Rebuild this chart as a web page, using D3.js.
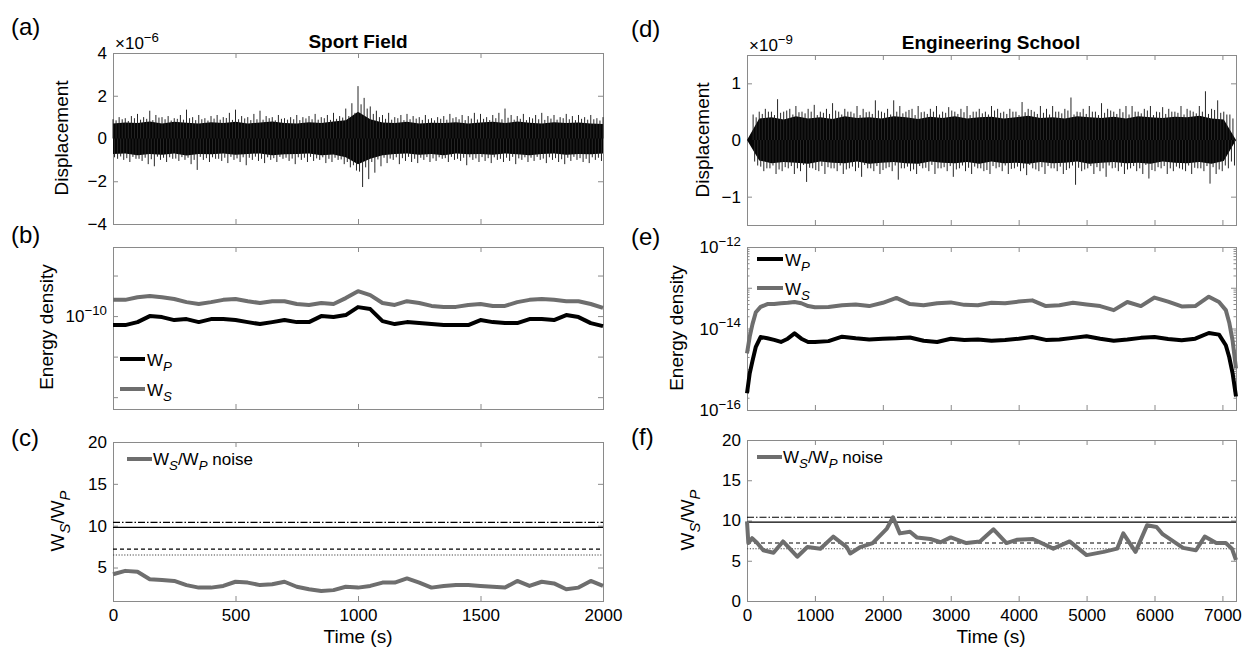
<!DOCTYPE html>
<html lang="en">
<head>
<meta charset="UTF-8">
<title>noise energy ratio</title>
<script src="https://d3js.org/d3.v7.min.js"></script>
<style>
  body { margin: 0; background: #fff; }
  svg { display: block; font-family: "Liberation Sans", Arial, Helvetica, sans-serif; }
</style>
</head>
<body>
<div class="canvas"></div>
<script>
// ---------- data ----------
// (a) Sport Field displacement (x1e-6): tall up / down peaks every 25 s
const sportStep = 25;
const sportHi = [0.9, 1.0, 0.95, 1.05, 1.15, 1.0, 1.3, 1.1, 1.0, 1.05,
  0.95, 1.1, 1.35, 1.0, 1.1, 0.95, 1.05, 1.1, 1.0, 1.2,
  1.35, 1.05, 1.0, 1.15, 1.3, 1.05, 1.0, 1.1, 0.95, 1.0,
  1.1, 1.0, 1.05, 1.15, 1.0, 1.1, 1.2, 1.05, 1.4, 1.65,
  2.45, 1.9, 1.5, 1.3, 1.1, 1.2, 1.0, 1.1, 1.15, 1.05,
  1.0, 1.1, 0.95, 1.0, 1.05, 1.15, 1.0, 1.1, 1.05, 1.2,
  1.15, 1.0, 1.1, 1.2, 1.4, 1.1, 1.05, 1.15, 1.0, 1.1,
  1.2, 1.05, 1.1, 1.0, 1.15, 1.05, 1.1, 1.0, 1.1, 0.95, 1.0];
const sportLo = [-0.95, -1.0, -1.1, -0.95, -1.05, -1.2, -1.3, -1.0, -1.1, -0.95,
  -1.05, -1.0, -1.2, -1.47, -1.0, -1.1, -0.95, -1.05, -1.15, -1.0,
  -1.1, -1.25, -1.0, -1.05, -1.15, -1.0, -1.1, -0.95, -1.05, -1.2,
  -1.0, -1.1, -1.05, -1.0, -1.15, -1.1, -1.0, -1.2, -1.35, -1.5,
  -2.27, -1.9, -1.6, -1.3, -1.15, -1.0, -1.2, -1.05, -1.1, -1.15,
  -1.0, -1.1, -1.05, -0.95, -1.1, -1.0, -1.05, -1.25, -1.0, -1.1,
  -1.05, -1.15, -1.0, -1.1, -1.05, -1.2, -1.0, -1.1, -1.05, -1.0,
  -1.15, -1.0, -1.1, -1.2, -1.05, -1.0, -1.1, -1.15, -1.0, -1.05, -0.9];
// short peaks just outside the band, same 25 s grid
const sportFringeHi = [0.85, 0.9, 0.82, 0.95, 0.88, 0.92, 0.86, 0.98, 0.9, 0.84,
  0.92, 0.88, 0.95, 0.86, 0.9, 0.84, 0.93, 0.88, 0.96, 0.87,
  0.9, 0.94, 0.86, 0.9, 0.88, 0.95, 0.85, 0.92, 0.88, 0.9,
  0.86, 0.94, 0.9, 0.88, 0.95, 0.87, 0.92, 0.98, 1.05, 1.2,
  1.6, 1.4, 1.15, 1.0, 0.92, 0.88, 0.95, 0.86, 0.9, 0.93,
  0.87, 0.9, 0.85, 0.92, 0.88, 0.95, 0.9, 0.86, 0.93, 0.89,
  0.92, 0.86, 0.95, 0.9, 0.97, 0.88, 0.92, 0.86, 0.94, 0.9,
  0.87, 0.93, 0.88, 0.95, 0.9, 0.86, 0.92, 0.88, 0.9, 0.84, 0.8];
const sportFringeLo = [-0.88, -0.84, -0.92, -0.86, -0.95, -0.9, -0.97, -0.85, -0.9, -0.88,
  -0.94, -0.87, -0.9, -1.0, -0.86, -0.92, -0.88, -0.95, -0.9, -0.86,
  -0.93, -0.88, -0.9, -0.85, -0.95, -0.88, -0.92, -0.86, -0.9, -0.94,
  -0.88, -0.9, -0.86, -0.93, -0.88, -0.95, -0.9, -0.98, -1.1, -1.25,
  -1.55, -1.35, -1.1, -0.98, -0.9, -0.94, -0.88, -0.92, -0.86, -0.95,
  -0.9, -0.87, -0.93, -0.88, -0.92, -0.86, -0.95, -0.9, -0.88, -0.93,
  -0.87, -0.92, -0.88, -0.95, -0.9, -0.86, -0.93, -0.88, -0.9, -0.86,
  -0.94, -0.88, -0.92, -0.97, -0.9, -0.86, -0.92, -0.95, -0.88, -0.9, -0.8];
// edges of the solid black band, every 50 s
const sportBandStep = 50;
const sportBandUp = [0.7, 0.75, 0.72, 0.8, 0.7, 0.78, 0.74, 0.7, 0.76, 0.72,
  0.78, 0.7, 0.75, 0.8, 0.72, 0.7, 0.76, 0.72, 0.8, 0.85,
  1.25, 0.9, 0.75, 0.72, 0.78, 0.7, 0.74, 0.72, 0.76, 0.7,
  0.75, 0.78, 0.72, 0.8, 0.74, 0.7, 0.76, 0.72, 0.75, 0.7, 0.68];
const sportBandDn = [-0.72, -0.7, -0.78, -0.72, -0.76, -0.7, -0.8, -0.72, -0.74, -0.7,
  -0.76, -0.72, -0.7, -0.78, -0.74, -0.72, -0.7, -0.78, -0.75, -0.88,
  -1.2, -0.95, -0.78, -0.72, -0.7, -0.76, -0.72, -0.78, -0.7, -0.74,
  -0.72, -0.76, -0.7, -0.74, -0.78, -0.72, -0.7, -0.76, -0.72, -0.74, -0.7];

// (b) Sport Field energy density, every 50 s
const sportEnergyStep = 50;
const sportWp = [8.57e-11, 8.57e-11, 9.02e-11, 1.0e-10, 9.83e-11, 9.34e-11, 9.5e-11, 9.02e-11, 9.5e-11, 9.5e-11,
  9.34e-11, 9.02e-11, 8.72e-11, 9.02e-11, 9.34e-11, 9.02e-11, 9.02e-11, 1.0e-10, 9.83e-11, 1.017e-10,
  1.166e-10, 1.127e-10, 9.18e-11, 8.72e-11, 9.02e-11, 8.87e-11, 8.72e-11, 8.57e-11, 8.57e-11, 8.57e-11,
  9.34e-11, 9.02e-11, 8.87e-11, 8.87e-11, 9.5e-11, 9.5e-11, 9.34e-11, 1.017e-10, 9.83e-11, 8.87e-11, 8.43e-11];
const sportWs = [1.32e-10, 1.32e-10, 1.38e-10, 1.41e-10, 1.38e-10, 1.34e-10, 1.27e-10, 1.23e-10, 1.27e-10, 1.32e-10,
  1.34e-10, 1.29e-10, 1.25e-10, 1.29e-10, 1.29e-10, 1.23e-10, 1.21e-10, 1.25e-10, 1.23e-10, 1.36e-10,
  1.53e-10, 1.43e-10, 1.25e-10, 1.21e-10, 1.29e-10, 1.25e-10, 1.19e-10, 1.17e-10, 1.17e-10, 1.21e-10,
  1.23e-10, 1.19e-10, 1.19e-10, 1.27e-10, 1.32e-10, 1.34e-10, 1.32e-10, 1.29e-10, 1.29e-10, 1.23e-10, 1.15e-10];

// (c) Sport Field Ws/Wp, every 50 s
const sportRatio = [4.2, 4.6, 4.5, 3.6, 3.5, 3.4, 2.9, 2.6, 2.6, 2.8,
  3.3, 3.2, 2.9, 3.0, 3.3, 2.7, 2.4, 2.2, 2.3, 2.7,
  2.6, 2.8, 3.2, 3.2, 3.7, 3.2, 2.6, 2.8, 2.9, 2.9,
  2.8, 2.7, 2.6, 3.4, 2.8, 3.3, 3.1, 2.4, 2.6, 3.4, 2.8];

// horizontal reference levels in (c) and (f): dash-dot, solid, dashed, dotted
const refLevels = [10.4, 9.8, 7.2, 6.5];

// (d) Engineering School displacement (x1e-9): tall peaks every 90 s
const schoolStep = 90;
const schoolHi = [0.0, 0.45, 0.5, 0.55, 0.5, 0.72, 0.5, 0.55, 0.6, 0.5,
  0.55, 0.62, 0.5, 0.55, 0.65, 0.5, 0.55, 0.5, 0.6, 0.55,
  0.5, 0.7, 0.5, 0.55, 0.7, 0.6, 0.5, 0.55, 0.6, 0.5,
  0.55, 0.6, 0.5, 0.58, 0.5, 0.55, 0.6, 0.5, 0.55, 0.5,
  0.6, 0.55, 0.5, 0.55, 0.5, 0.67, 0.55, 0.5, 0.6, 0.55,
  0.6, 0.5, 0.55, 0.75, 0.5, 0.55, 0.6, 0.5, 0.65, 0.55,
  0.5, 0.55, 0.6, 0.6, 0.5, 0.55, 0.6, 0.5, 0.58, 0.55,
  0.5, 0.6, 0.55, 0.5, 0.6, 0.86, 0.55, 0.7, 0.5, 0.45, 0.0];
const schoolLo = [0.0, -0.45, -0.55, -0.5, -0.6, -0.55, -0.5, -0.6, -0.55, -0.74,
  -0.5, -0.55, -0.6, -0.5, -0.55, -0.6, -0.5, -0.55, -0.65, -0.5,
  -0.55, -0.6, -0.5, -0.55, -0.7, -0.5, -0.55, -0.6, -0.5, -0.55,
  -0.6, -0.5, -0.55, -0.65, -0.5, -0.55, -0.6, -0.5, -0.55, -0.6,
  -0.5, -0.55, -0.6, -0.5, -0.55, -0.62, -0.5, -0.55, -0.6, -0.5,
  -0.55, -0.6, -0.5, -0.79, -0.55, -0.5, -0.6, -0.55, -0.65, -0.5,
  -0.55, -0.6, -0.5, -0.55, -0.6, -0.68, -0.55, -0.5, -0.6, -0.55,
  -0.5, -0.55, -0.6, -0.5, -0.55, -0.77, -0.6, -0.55, -0.5, -0.45, 0.0];
const schoolFringeHi = [0.0, 0.4, 0.46, 0.5, 0.44, 0.48, 0.52, 0.45, 0.49, 0.47,
  0.5, 0.44, 0.48, 0.46, 0.52, 0.45, 0.5, 0.47, 0.44, 0.49,
  0.46, 0.52, 0.48, 0.45, 0.5, 0.47, 0.53, 0.44, 0.49, 0.46,
  0.5, 0.45, 0.48, 0.52, 0.46, 0.49, 0.44, 0.5, 0.47, 0.45,
  0.52, 0.48, 0.46, 0.5, 0.44, 0.49, 0.53, 0.46, 0.48, 0.45,
  0.5, 0.47, 0.52, 0.45, 0.49, 0.46, 0.5, 0.44, 0.48, 0.52,
  0.46, 0.49, 0.45, 0.5, 0.47, 0.52, 0.44, 0.49, 0.46, 0.5,
  0.48, 0.45, 0.52, 0.47, 0.5, 0.46, 0.53, 0.48, 0.45, 0.38, 0.0];
const schoolFringeLo = [0.0, -0.38, -0.47, -0.5, -0.45, -0.52, -0.48, -0.46, -0.5, -0.44,
  -0.49, -0.53, -0.46, -0.48, -0.5, -0.45, -0.52, -0.47, -0.49, -0.44,
  -0.5, -0.46, -0.53, -0.48, -0.45, -0.5, -0.47, -0.52, -0.46, -0.49,
  -0.44, -0.5, -0.48, -0.46, -0.52, -0.45, -0.49, -0.47, -0.5, -0.53,
  -0.46, -0.48, -0.45, -0.51, -0.47, -0.5, -0.44, -0.52, -0.48, -0.46,
  -0.5, -0.47, -0.53, -0.45, -0.49, -0.52, -0.46, -0.48, -0.5, -0.45,
  -0.49, -0.47, -0.52, -0.46, -0.5, -0.44, -0.53, -0.48, -0.46, -0.5,
  -0.47, -0.52, -0.45, -0.49, -0.5, -0.46, -0.48, -0.52, -0.45, -0.38, 0.0];
// edges of the solid black band, every 180 s
const schoolBandStep = 180;
const schoolBandUp = [0.0, 0.38, 0.4, 0.36, 0.42, 0.38, 0.4, 0.37, 0.42, 0.39,
  0.4, 0.38, 0.42, 0.4, 0.37, 0.41, 0.39, 0.42, 0.38, 0.4,
  0.41, 0.38, 0.4, 0.43, 0.39, 0.4, 0.38, 0.42, 0.4, 0.39,
  0.41, 0.38, 0.42, 0.4, 0.39, 0.41, 0.4, 0.43, 0.38, 0.36, 0.0];
const schoolBandDn = [0.0, -0.36, -0.41, -0.39, -0.4, -0.42, -0.38, -0.4, -0.41, -0.38,
  -0.42, -0.4, -0.39, -0.41, -0.42, -0.38, -0.4, -0.41, -0.39, -0.42,
  -0.38, -0.41, -0.4, -0.42, -0.39, -0.41, -0.4, -0.38, -0.42, -0.4,
  -0.39, -0.41, -0.4, -0.42, -0.38, -0.4, -0.41, -0.39, -0.42, -0.37, 0.0];

// (e) Engineering School energy density
const schoolEnergyT = [0, 40, 80, 130, 200, 300, 400, 500, 600, 700,
  800, 900, 1000, 1200, 1400, 1600, 1800, 2000, 2200, 2400,
  2600, 2800, 3000, 3200, 3400, 3600, 3800, 4000, 4200, 4400,
  4600, 4800, 5000, 5200, 5400, 5600, 5800, 6000, 6200, 6400,
  6600, 6800, 6950, 7050, 7100, 7150, 7200];
const schoolWp = [2.57e-16, 7.94e-16, 1.58e-15, 3.55e-15, 6.17e-15, 5.75e-15, 5.25e-15, 4.68e-15, 5.62e-15, 7.59e-15,
  5.62e-15, 4.68e-15, 4.68e-15, 4.90e-15, 6.31e-15, 5.75e-15, 5.37e-15, 5.62e-15, 5.75e-15, 6.03e-15,
  5.01e-15, 4.68e-15, 5.62e-15, 5.25e-15, 5.37e-15, 5.01e-15, 5.25e-15, 5.62e-15, 6.17e-15, 5.25e-15,
  5.37e-15, 5.89e-15, 6.46e-15, 5.62e-15, 5.01e-15, 5.37e-15, 5.89e-15, 6.17e-15, 5.50e-15, 5.13e-15,
  5.62e-15, 7.76e-15, 7.08e-15, 3.89e-15, 2.00e-15, 7.94e-16, 2.14e-16];
const schoolWs = [2.45e-15, 6.31e-15, 1.26e-14, 2.51e-14, 3.39e-14, 3.98e-14, 3.98e-14, 4.17e-14, 4.27e-14, 4.47e-14,
  4.17e-14, 3.55e-14, 3.31e-14, 3.39e-14, 3.72e-14, 3.89e-14, 3.55e-14, 4.27e-14, 5.62e-14, 3.98e-14,
  3.72e-14, 4.17e-14, 4.37e-14, 3.80e-14, 3.72e-14, 4.27e-14, 4.17e-14, 4.57e-14, 4.90e-14, 3.55e-14,
  3.72e-14, 4.27e-14, 3.89e-14, 3.55e-14, 2.82e-14, 4.47e-14, 3.55e-14, 5.75e-14, 4.57e-14, 3.47e-14,
  3.55e-14, 6.03e-14, 4.47e-14, 2.82e-14, 1.41e-14, 5.01e-15, 1.05e-15];

// (f) Engineering School Ws/Wp
const schoolRatioT = [0, 20, 75, 150, 240, 390, 530, 740, 890, 1080,
  1270, 1470, 1520, 1670, 1850, 2060, 2150, 2250, 2400, 2500,
  2700, 2850, 3000, 3230, 3430, 3630, 3820, 3970, 4210, 4510,
  4750, 5000, 5250, 5450, 5540, 5720, 5890, 6030, 6120, 6420,
  6610, 6740, 6910, 7050, 7140, 7200];
const schoolRatio = [9.9, 7.2, 7.8, 7.2, 6.3, 6.0, 7.4, 5.5, 6.7, 6.5,
  8.0, 6.7, 5.9, 6.7, 7.2, 9.0, 10.4, 8.4, 8.6, 7.9,
  7.7, 7.3, 7.9, 7.2, 7.4, 8.9, 7.2, 7.6, 7.7, 6.5,
  7.4, 5.7, 6.1, 6.5, 8.4, 6.1, 9.4, 9.2, 8.3, 6.6,
  6.3, 8.0, 7.2, 7.2, 6.5, 5.1];

// tick values
const sportTimeTicks = [0, 500, 1000, 1500, 2000];
const schoolTimeTicks = [0, 1000, 2000, 3000, 4000, 5000, 6000, 7000];
const dispATicks = [-4, -2, 0, 2, 4];
const dispDTicks = [-1, 0, 1];
const energyBTicks = [2.5e-11, 5e-11, 1e-10, 2e-10];
const energyBLabels = [1e-10];
const energyETicks = [1e-16, 1e-15, 1e-14, 1e-13, 1e-12];
const energyELabels = [1e-16, 1e-14, 1e-12];
const ratioCTicks = [5, 10, 15, 20];
const ratioFTicks = [0, 5, 10, 15, 20];

// ---------- drawing ----------
const W = 1251, H = 654;
const BOX = '#8a8a8a';
const INK = '#000';
const GRAY = '#6e6e6e';
const TICK_FS = 17;
const LABEL_FS = 19;

const svg = d3.select('.canvas').append('svg')
  .attr('width', W).attr('height', H);

// text with sub / superscripts: parts = [[str, 'n'|'sup'|'subi'], ...]
function richText(parent, x, y, parts, size, anchor, transform) {
  const t = parent.append('text')
    .attr('x', x).attr('y', y)
    .attr('font-size', size)
    .attr('fill', INK)
    .attr('text-anchor', anchor || 'start');
  if (transform) t.attr('transform', transform);
  let off = 0;
  parts.forEach(([str, kind]) => {
    const target = kind === 'sup' ? -size * 0.42 : kind === 'subi' ? size * 0.3 : 0;
    t.append('tspan')
      .attr('dy', target - off)
      .attr('font-size', kind === 'n' ? size : size * 0.78)
      .attr('font-style', kind === 'subi' ? 'italic' : null)
      .text(str);
    off = target;
  });
  return t;
}

function panel(p) {
  const x = d3.scaleLinear().domain(p.xDomain).range([p.left, p.right]);
  const y = (p.log ? d3.scaleLog() : d3.scaleLinear()).domain(p.yDomain).range([p.bottom, p.top]);
  const g = svg.append('g');

  const none = () => '';
  const axB = d3.axisBottom(x).tickValues(p.xTicks).tickSize(-5).tickPadding(8)
    .tickFormat(p.xLabels ? d3.format('d') : none);
  const axT = d3.axisTop(x).tickValues(p.xTicks).tickSize(-5).tickFormat(none);
  const axL = d3.axisLeft(y).tickValues(p.yTicks).tickSize(-5).tickPadding(6)
    .tickFormat(p.log ? none : d3.format('d'));
  const axR = d3.axisRight(y).tickValues(p.yTicks).tickSize(-5).tickFormat(none);

  const axes = g.append('g');
  axes.append('g').attr('transform', `translate(0,${p.bottom})`).call(axB);
  axes.append('g').attr('transform', `translate(0,${p.top})`).call(axT);
  axes.append('g').attr('transform', `translate(${p.left},0)`).call(axL);
  axes.append('g').attr('transform', `translate(${p.right},0)`).call(axR);

  if (p.minorLog) {
    const minor = y.ticks().filter(v => p.yTicks.indexOf(v) < 0);
    axes.append('g').attr('transform', `translate(${p.left},0)`)
      .call(d3.axisLeft(y).tickValues(minor).tickSize(-2.5).tickFormat(none));
    axes.append('g').attr('transform', `translate(${p.right},0)`)
      .call(d3.axisRight(y).tickValues(minor).tickSize(-2.5).tickFormat(none));
  }

  axes.selectAll('.domain').remove();
  axes.selectAll('g').attr('font-family', null).attr('font-size', null);
  axes.selectAll('.tick line').attr('stroke', BOX);
  axes.selectAll('.tick text').attr('fill', INK).attr('font-size', TICK_FS);

  g.append('rect')
    .attr('x', p.left + 0.5).attr('y', p.top + 0.5)
    .attr('width', p.right - p.left).attr('height', p.bottom - p.top)
    .attr('fill', 'none').attr('stroke', BOX).attr('stroke-width', 1);

  if (p.log && p.logLabels) {
    p.logLabels.forEach(v => {
      const e = Math.round(Math.log10(v));
      richText(g, p.left - 6, y(v) + 6, [['10', 'n'], [`\u2212${-e}`, 'sup']], TICK_FS, 'end');
    });
  }
  return { g, x, y };
}

// waveform: solid band plus four spikes per sample step
function waveform(pn, w) {
  pn.g.append('path')
    .datum(w.bandUp.map((v, i) => [i * w.bandStep, v, w.bandDn[i]]))
    .attr('d', d3.area().x(d => pn.x(d[0])).y0(d => pn.y(d[2])).y1(d => pn.y(d[1])))
    .attr('fill', '#050505');
  const s = w.step;
  const sticks = [];
  w.hi.forEach((v, i) => {
    const t = i * s;
    sticks.push([t, v]);
    sticks.push([t + s / 4, w.fringeLo[i]]);
    sticks.push([t + s / 2, w.fringeHi[i]]);
    sticks.push([t + 3 * s / 4, w.lo[i]]);
  });
  pn.g.append('g').selectAll('line')
    .data(sticks.filter(d => d[0] <= w.span))
    .join('line')
    .attr('x1', d => pn.x(d[0])).attr('x2', d => pn.x(d[0]))
    .attr('y1', pn.y(0)).attr('y2', d => pn.y(d[1]))
    .attr('stroke', '#262626').attr('stroke-width', 1);
}

function curve(pn, pts, color, width) {
  pn.g.append('path')
    .datum(pts)
    .attr('d', d3.line().x(d => pn.x(d[0])).y(d => pn.y(d[1])))
    .attr('fill', 'none').attr('stroke', color).attr('stroke-width', width)
    .attr('stroke-linejoin', 'round').attr('stroke-linecap', 'butt');
}

function refLines(pn, span) {
  const dashes = ['7,2,1.5,2', null, '4,3', '1.2,1.6'];
  const widths = [1.1, 1.3, 1.1, 1.1];
  refLevels.forEach((v, i) => {
    pn.g.append('line')
      .attr('x1', pn.x(span[0])).attr('x2', pn.x(span[1]))
      .attr('y1', pn.y(v)).attr('y2', pn.y(v))
      .attr('stroke', i === 3 ? '#444' : INK)
      .attr('stroke-width', widths[i])
      .attr('stroke-dasharray', dashes[i]);
  });
}

function legendLine(g, x1, x2, y, color) {
  g.append('line').attr('x1', x1).attr('x2', x2).attr('y1', y).attr('y2', y)
    .attr('stroke', color).attr('stroke-width', 4);
}

const L = { left: 113, right: 603 };
const R = { left: 747, right: 1236 };

// (a)
const pa = panel({ ...L, top: 53, bottom: 224, xDomain: [0, 2000], yDomain: [-4, 4],
  xTicks: sportTimeTicks, yTicks: dispATicks });
waveform(pa, { hi: sportHi, lo: sportLo, fringeHi: sportFringeHi, fringeLo: sportFringeLo,
  step: sportStep, bandUp: sportBandUp, bandDn: sportBandDn, bandStep: sportBandStep, span: 2000 });
richText(svg, 115, 49, [['\u00d710', 'n'], ['\u22126', 'sup']], 17);

// (b)
const pb = panel({ ...L, top: 247, bottom: 409, xDomain: [0, 2000],
  yDomain: [Math.pow(10, -10.69), Math.pow(10, -9.487)], log: true,
  xTicks: sportTimeTicks, yTicks: energyBTicks, logLabels: energyBLabels });
curve(pb, sportWs.map((v, i) => [i * sportEnergyStep, v]), GRAY, 4);
curve(pb, sportWp.map((v, i) => [i * sportEnergyStep, v]), INK, 4);
legendLine(svg, 120, 145, 359, INK);
richText(svg, 147, 366, [['W', 'n'], ['P', 'subi']], 17);
legendLine(svg, 120, 145, 389, GRAY);
richText(svg, 147, 396, [['W', 'n'], ['S', 'subi']], 17);

// (c)
const pc = panel({ ...L, top: 442, bottom: 601, xDomain: [0, 2000], yDomain: [1, 20],
  xTicks: sportTimeTicks, yTicks: ratioCTicks, xLabels: true });
refLines(pc, [0, 2000]);
curve(pc, sportRatio.map((v, i) => [i * sportEnergyStep, v]), GRAY, 4);
legendLine(svg, 127, 152, 459, GRAY);
richText(svg, 153, 465, [['W', 'n'], ['S', 'subi'], ['/W', 'n'], ['P', 'subi'], [' noise', 'n']], 17);

// (d)
const pd = panel({ ...R, top: 55, bottom: 225, xDomain: [0, 7200], yDomain: [-1.5, 1.5],
  xTicks: schoolTimeTicks, yTicks: dispDTicks });
waveform(pd, { hi: schoolHi, lo: schoolLo, fringeHi: schoolFringeHi, fringeLo: schoolFringeLo,
  step: schoolStep, bandUp: schoolBandUp, bandDn: schoolBandDn, bandStep: schoolBandStep, span: 7200 });
richText(svg, 749, 51, [['\u00d710', 'n'], ['\u22129', 'sup']], 17);

// (e)
const pe = panel({ ...R, top: 247, bottom: 410, xDomain: [0, 7200], yDomain: [1e-16, 1e-12], log: true,
  xTicks: schoolTimeTicks, yTicks: energyETicks, logLabels: energyELabels, minorLog: true });
curve(pe, schoolEnergyT.map((t, i) => [t, schoolWs[i]]), GRAY, 4);
curve(pe, schoolEnergyT.map((t, i) => [t, schoolWp[i]]), INK, 4);
legendLine(svg, 757, 783, 259, INK);
richText(svg, 785, 266, [['W', 'n'], ['P', 'subi']], 17);
legendLine(svg, 757, 783, 288, GRAY);
richText(svg, 785, 295, [['W', 'n'], ['S', 'subi']], 17);

// (f)
const pf = panel({ ...R, top: 440, bottom: 601, xDomain: [0, 7200], yDomain: [0, 20],
  xTicks: schoolTimeTicks, yTicks: ratioFTicks, xLabels: true });
refLines(pf, [0, 7200]);
curve(pf, schoolRatioT.map((t, i) => [t, schoolRatio[i]]), GRAY, 4);
legendLine(svg, 757, 782, 457, GRAY);
richText(svg, 783, 463, [['W', 'n'], ['S', 'subi'], ['/W', 'n'], ['P', 'subi'], [' noise', 'n']], 17);

// titles, axis labels, panel letters
svg.append('text').attr('x', 358).attr('y', 48).attr('text-anchor', 'middle')
  .attr('font-size', 19).attr('font-weight', 'bold').text('Sport Field');
svg.append('text').attr('x', 991).attr('y', 49).attr('text-anchor', 'middle')
  .attr('font-size', 19).attr('font-weight', 'bold').text('Engineering School');

[[358, 643], [991, 643]].forEach(([x, y]) => {
  svg.append('text').attr('x', x).attr('y', y).attr('text-anchor', 'middle')
    .attr('font-size', LABEL_FS).text('Time (s)');
});

function yLabel(x, y, txt) {
  svg.append('text').attr('transform', `translate(${x},${y}) rotate(-90)`)
    .attr('text-anchor', 'middle').attr('font-size', LABEL_FS).text(txt);
}
yLabel(68, 138, 'Displacement');
yLabel(53, 327, 'Energy density');
yLabel(709, 140, 'Displacement');
yLabel(683, 328, 'Energy density');
richText(svg, 0, 0, [['W', 'n'], ['S', 'subi'], ['/W', 'n'], ['P', 'subi']], LABEL_FS, 'middle', 'translate(64,521) rotate(-90)');
richText(svg, 0, 0, [['W', 'n'], ['S', 'subi'], ['/W', 'n'], ['P', 'subi']], LABEL_FS, 'middle', 'translate(694,520) rotate(-90)');

[['(a)', 11, 35], ['(b)', 11, 243], ['(c)', 11, 446],
 ['(d)', 631, 37], ['(e)', 631, 245], ['(f)', 631, 445]].forEach(([s, x, y]) => {
  svg.append('text').attr('x', x).attr('y', y).attr('font-size', 24).text(s);
});
</script>
</body>
</html>
